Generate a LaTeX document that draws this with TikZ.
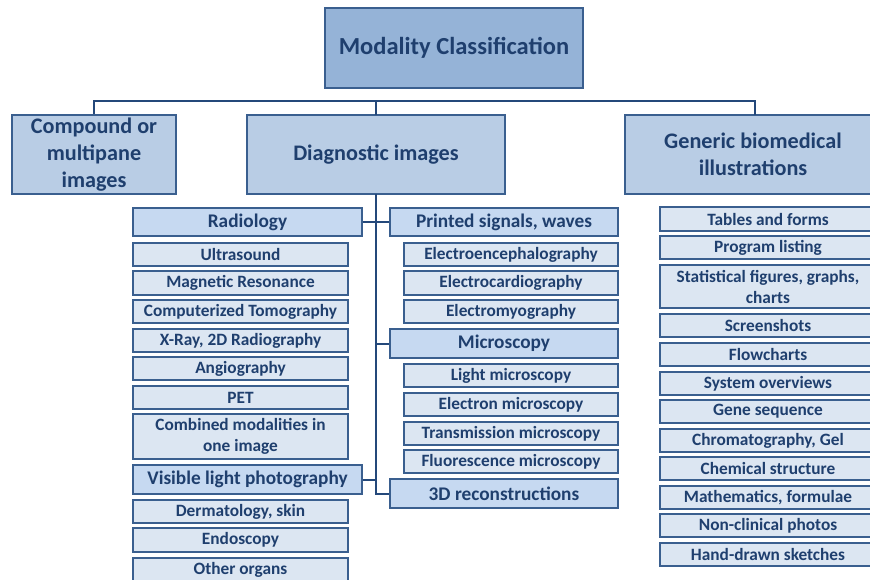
\documentclass[tikz,border=0pt]{standalone}
\usepackage{fontspec}
\setmainfont{Carlito}
\definecolor{cA}{HTML}{95B3D7}
\definecolor{cB}{HTML}{B9CDE5}
\definecolor{cC}{HTML}{C6D9F1}
\definecolor{cD}{HTML}{DCE6F2}
\definecolor{bord}{HTML}{3A5F8F}
\definecolor{conn}{HTML}{24487A}
\definecolor{txt}{HTML}{1F3F6E}
\newcommand\bx[7]{\node[#6, minimum width={(#4-#2)*1pt}, minimum height={(#5-#3)*1pt}] (#1) at ({(#2+#4)/2},{-(#3+#5)/2}) {#7};}
\begin{document}
\begin{tikzpicture}[x=1pt,y=1pt,
  base/.style={draw=bord, line width=1.8pt, text=txt, align=center, inner sep=0pt, rectangle},
  lv0/.style={base, fill=cA, font=\bfseries\fontsize{24.5}{28}\selectfont},
  lv1/.style={base, fill=cB, font=\bfseries\fontsize{22.2}{27}\selectfont},
  lv2/.style={base, fill=cC, font=\bfseries\fontsize{19.3}{22}\selectfont},
  lv3/.style={base, fill=cD, font=\bfseries\fontsize{17.3}{21}\selectfont},
  link/.style={draw=conn, line width=2pt}]
\useasboundingbox (0,0) rectangle (870,-580);
\clip (0,0) rectangle (870,-580);
\bx{mod}{325}{8}{583}{88}{lv0}{Modality Classification}
\bx{comp}{12}{115}{176}{194}{lv1}{Compound or\\multipane\\images}
\bx{diag}{247}{115}{505}{194}{lv1}{Diagnostic images}
\bx{gen}{625}{115}{881}{194}{lv1}{Generic biomedical\\illustrations}
\bx{rad}{133}{208}{362}{236}{lv2}{Radiology}
\bx{vis}{133}{465}{362}{494}{lv2}{Visible light photography}
\bx{sig}{390}{208}{618}{236}{lv2}{Printed signals, waves}
\bx{mic}{390}{329}{618}{358}{lv2}{Microscopy}
\bx{rec}{390}{479}{618}{508}{lv2}{3D reconstructions}
% radiology items
\bx{us}{133}{243}{348}{266}{lv3}{Ultrasound}
\bx{mr}{133}{271}{348}{295}{lv3}{Magnetic Resonance}
\bx{ct}{133}{300}{348}{323}{lv3}{Computerized Tomography}
\bx{xr}{133}{329}{348}{352}{lv3}{X-Ray, 2D Radiography}
\bx{ang}{133}{357}{348}{380}{lv3}{Angiography}
\bx{pet}{133}{386}{348}{409}{lv3}{PET}
\bx{comb}{133}{414}{348}{459}{lv3}{Combined modalities in\\one image}
\bx{derm}{133}{500}{348}{523}{lv3}{Dermatology, skin}
\bx{endo}{133}{528}{348}{552}{lv3}{Endoscopy}
\bx{oth}{133}{558}{348}{581}{lv3}{Other organs}
% signals / microscopy items
\bx{eeg}{404}{243}{618}{266}{lv3}{Electroencephalography}
\bx{ecg}{404}{271}{618}{295}{lv3}{Electrocardiography}
\bx{emg}{404}{300}{618}{323}{lv3}{Electromyography}
\bx{lm}{404}{364}{618}{387}{lv3}{Light microscopy}
\bx{em}{404}{393}{618}{416}{lv3}{Electron microscopy}
\bx{tm}{404}{422}{618}{445}{lv3}{Transmission microscopy}
\bx{fm}{404}{450}{618}{473}{lv3}{Fluorescence microscopy}
% generic items
\bx{tab}{660}{207}{876}{231}{lv3}{Tables and forms}
\bx{prog}{660}{236}{876}{259}{lv3}{Program listing}
\bx{stat}{660}{265}{876}{308}{lv3}{Statistical figures, graphs,\\charts}
\bx{scr}{660}{314}{876}{337}{lv3}{Screenshots}
\bx{flow}{660}{343}{876}{366}{lv3}{Flowcharts}
\bx{sys}{660}{372}{876}{395}{lv3}{System overviews}
\bx{gene}{660}{400}{876}{423}{lv3}{Gene sequence}
\bx{chrom}{660}{429}{876}{452}{lv3}{Chromatography, Gel}
\bx{chem}{660}{457}{876}{480}{lv3}{Chemical structure}
\bx{math}{660}{486}{876}{509}{lv3}{Mathematics, formulae}
\bx{nonc}{660}{514}{876}{537}{lv3}{Non-clinical photos}
\bx{hand}{660}{543}{876}{566}{lv3}{Hand-drawn sketches}
% connectors
\coordinate (bus) at (0,-101);
\coordinate (gtop) at (755,-115);
\coordinate (dtop) at (376,-115);
\draw[link] (comp.north) -- (comp.north |- bus) -- (gtop |- bus) -- (gtop);
\draw[link] (dtop) -- (dtop |- bus);
\coordinate (dbot) at (376,-194);
\draw[link] (dbot) |- (rec.west);
\draw[link] (rad.east) -- (rad.east -| dbot);
\draw[link] (vis.east) -- (vis.east -| dbot);
\draw[link] (sig.west) -- (sig.west -| dbot);
\draw[link] (mic.west) -- (mic.west -| dbot);
\end{tikzpicture}
\end{document}
